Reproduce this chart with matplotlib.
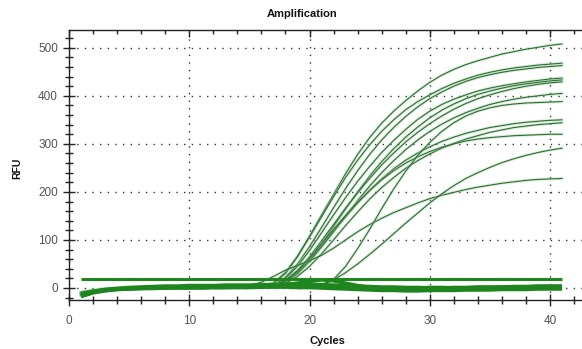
import numpy as np
import matplotlib.pyplot as plt
from matplotlib.ticker import MultipleLocator

plt.rcParams['font.family'] = ['Liberation Sans', 'DejaVu Sans']

cycles = np.arange(1, 42)

# amplified wells, RFU per cycle (1..41)
amp_a = [-14, -8, -4, -2, -1, 0, 1, 1, 2, 2, 2, 3, 3, 3, 4, 5,
         10, 30, 65, 108, 152, 195, 238, 278, 313, 343, 368, 390, 410, 428,
         443, 455, 465, 473, 480, 487, 492, 497, 501, 505, 508]
amp_b1 = [-10, -6, -3, -1, 0, 1, 1, 2, 2, 3, 3, 3, 4, 4, 4, 5,
          10, 32, 66, 106, 148, 190, 230, 266, 298, 326, 350, 371, 388, 402,
          415, 426, 435, 443, 449, 454, 458, 461, 464, 466, 468]
amp_b2 = [-16, -9, -5, -3, -1, 0, 0, 1, 1, 2, 2, 2, 3, 3, 3, 4,
          6, 22, 50, 86, 126, 167, 207, 244, 278, 308, 334, 357, 377, 394,
          408, 420, 430, 438, 444, 449, 453, 456, 459, 461, 463]
amp_c1 = [-12, -6, -3, -1, 0, 1, 2, 2, 3, 3, 3, 4, 4, 4, 5, 5,
          6, 20, 45, 78, 115, 152, 188, 222, 253, 282, 307, 330, 351, 368,
          382, 393, 402, 410, 416, 421, 425, 429, 432, 435, 437]
amp_c2 = [-8, -4, -2, 0, 1, 1, 2, 2, 2, 3, 3, 3, 3, 4, 4, 4,
          3, 12, 30, 58, 92, 128, 165, 200, 233, 263, 290, 314, 335, 354,
          370, 383, 394, 403, 410, 416, 421, 425, 428, 431, 433]
amp_c3 = [-15, -9, -5, -2, -1, 0, 1, 1, 1, 2, 2, 2, 3, 3, 3, 4,
          4, 15, 36, 65, 98, 132, 166, 198, 228, 256, 281, 304, 324, 342,
          358, 372, 384, 394, 402, 409, 415, 420, 424, 427, 429]
amp_e = [-11, -6, -3, -1, 0, 0, 1, 1, 2, 2, 2, 3, 3, 3, 3, 3,
         3, 12, 30, 55, 85, 117, 150, 182, 212, 240, 265, 288, 308, 326,
         341, 354, 365, 374, 382, 388, 393, 397, 400, 403, 405]
amp_g1 = [-9, -5, -2, 0, 1, 1, 1, 2, 2, 2, 3, 3, 3, 3, 4, 4,
          4, 14, 33, 58, 87, 118, 148, 177, 203, 227, 248, 266, 281, 294,
          305, 314, 322, 328, 334, 338, 342, 345, 347, 349, 350]
amp_g2 = [-13, -7, -4, -2, -1, 0, 0, 1, 1, 1, 2, 2, 2, 2, 2, 2,
          2, 9, 24, 45, 71, 100, 130, 158, 185, 209, 230, 249, 265, 279,
          291, 301, 310, 317, 324, 329, 334, 337, 340, 342, 344]
amp_i = [-10, -5, -3, -1, 0, 1, 1, 2, 2, 2, 3, 3, 3, 4, 4, 4,
         5, 16, 36, 62, 92, 122, 151, 178, 203, 225, 244, 260, 273, 284,
         293, 300, 306, 310, 313, 315, 317, 318, 319, 320, 320]
amp_k = [-12, -7, -4, -2, 0, 1, 1, 2, 2, 3, 3, 3, 4, 4, 5, 12,
         24, 37, 47, 57, 68, 83, 100, 117, 132, 145, 157, 167, 177, 186,
         193, 199, 205, 210, 214, 218, 221, 224, 226, 227, 228]
amp_f = [-10, -6, -3, -1, 0, 0, 1, 1, 1, 2, 2, 2, 2, 3, 3, 3, 3, 3, 3, 3,
         5, 18, 45, 82, 122, 165, 206, 243, 276, 303, 326, 344, 358, 368,
         375, 380, 383, 385, 386, 387, 388]
amp_j = [-14, -8, -4, -2, -1, 0, 0, 1, 1, 1, 2, 2, 2, 2, 2, 3, 3, 3, 3, 4,
         7, 17, 32, 50, 70, 91, 113, 135, 156, 177, 196, 213, 228, 240,
         251, 261, 269, 276, 282, 287, 291]

# non-amplified wells
neg_1 = [-18, -10, -6, -3, -2, -1, 0, 0, 1, 1, 0, 1, 1, 2, 2, 2, 3, 3, 3, 2,
         2, 1, 1, 0, 0, -1, -1, 0, 0, 1, 1, 0, 0, 1, 1, 2, 2, 2, 3, 3, 3]
neg_2 = [-16, -9, -5, -3, -2, -1, -1, 0, 0, 0, 1, 1, 1, 1, 1, 2, 2, 2, 1, 1,
         0, -1, -2, -3, -4, -5, -5, -6, -6, -5, -5, -5, -4, -4, -4, -3, -3, -3, -2, -2, -2]
neg_3 = [-14, -8, -4, -2, -1, 0, 0, 1, 1, 1, 2, 2, 2, 3, 3, 4, 5, 7, 10, 14,
         17, 15, 10, 5, 1, -2, -3, -4, -4, -4, -3, -3, -3, -3, -2, -2, -2, -1, -1, 0, 0]
neg_4 = [-12, -7, -3, -1, 1, 2, 3, 4, 4, 5, 5, 5, 6, 6, 6, 7, 7, 8, 8, 8,
         7, 6, 5, 4, 3, 2, 2, 1, 1, 0, 0, 1, 1, 2, 2, 2, 3, 3, 4, 4, 4]

threshold = 18

amplified = [amp_a, amp_b1, amp_b2, amp_c1, amp_c2, amp_c3, amp_e, amp_g1,
             amp_g2, amp_i, amp_k, amp_f, amp_j]
negatives = [neg_1, neg_2, neg_3, neg_4]

fig = plt.figure(figsize=(5.82, 3.49), dpi=100)
ax = fig.add_axes([69 / 582, 49 / 349, 513 / 582, 270 / 349])

band = '#1f861f'
for y in amplified:
    ax.plot(cycles, y, color='#8fd08f', lw=2.2, alpha=0.35)
    ax.plot(cycles, y, color='#2f6a36', lw=0.8)
for y in negatives:
    ax.plot(cycles, y, color=band, lw=2.6, solid_capstyle='butt')
ax.plot([cycles[0], cycles[-1]], [threshold, threshold], color=band, lw=2.2,
        solid_capstyle='butt')

ax.set_xlim(0, 42.66)
ax.set_ylim(-25, 537)
ax.xaxis.set_major_locator(MultipleLocator(10))
ax.xaxis.set_minor_locator(MultipleLocator(2))
ax.yaxis.set_major_locator(MultipleLocator(100))
ax.yaxis.set_minor_locator(MultipleLocator(20))
ax.grid(True, which='major', color='#333333', lw=1.0, linestyle=(0, (1, 4.5)))
ax.set_axisbelow(True)

ax.spines['right'].set_visible(False)
for s in ['left', 'bottom', 'top']:
    ax.spines[s].set_linewidth(1.0)
    ax.spines[s].set_color('#222222')

ax.tick_params(which='major', direction='inout', length=9, width=1.0,
               colors='#222222', labelcolor='#555555', labelsize=8.5)
ax.tick_params(which='minor', direction='inout', length=6, width=1.0,
               colors='#222222')
ax.tick_params(axis='x', which='major', pad=6)

top = ax.secondary_xaxis('top')
top.xaxis.set_major_locator(MultipleLocator(10))
top.xaxis.set_minor_locator(MultipleLocator(2))
top.tick_params(which='major', direction='in', length=5, width=1.0,
                colors='#222222', labeltop=False)
top.tick_params(which='minor', direction='in', length=3, width=1.0,
                colors='#222222')
top.spines['top'].set_visible(False)

fig.text(302 / 582, 1 - 14 / 349, 'Amplification', ha='center', va='center',
         fontsize=8, fontweight='bold', color='#111111')
fig.text(17 / 582, 1 - 168 / 349, 'RFU', ha='center', va='center',
         rotation=90, fontsize=7.5, fontweight='bold', color='#111111')
fig.text(327 / 582, 1 - 341 / 349, 'Cycles', ha='center', va='center',
         fontsize=8, fontweight='bold', color='#111111')

fig.savefig('out.png', dpi=100)
